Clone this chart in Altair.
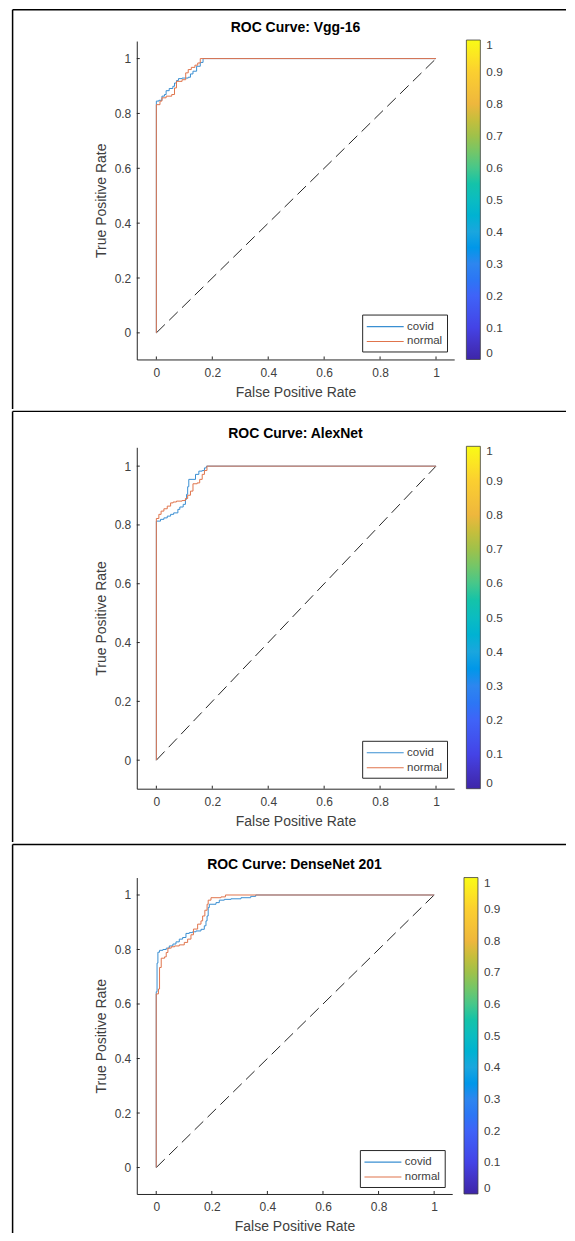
import altair as alt
import pandas as pd

FONT = "Liberation Sans"
AXIS_GRAY = "#262626"
TEXT_GRAY = "#404040"

titles = ["ROC Curve: Vgg-16", "ROC Curve: AlexNet", "ROC Curve: DenseNet 201"]
series_names = ["covid", "normal"]
series_colors = ["#3a8fd2", "#e0744c"]
axis_ticks = [0, 0.2, 0.4, 0.6, 0.8, 1]
x_domain = [-0.07, 1.065]
y_domain = [-0.097, 1.064]
chance_line = [0, 1]

# Vgg-16
vgg_covid_fpr = [0, 0, 0.009, 0.02, 0.029, 0.035, 0.046, 0.059, 0.065, 0.072, 0.079, 0.092, 0.114, 0.122, 0.131, 0.144, 0.157, 0.167, 1]
vgg_covid_tpr = [0, 0.845, 0.848, 0.863, 0.869, 0.883, 0.891, 0.899, 0.911, 0.92, 0.927, 0.929, 0.932, 0.944, 0.954, 0.972, 0.986, 1.0, 1]
vgg_normal_fpr = [0, 0, 0.013, 0.02, 0.035, 0.055, 0.065, 0.072, 0.092, 0.105, 0.114, 0.125, 0.138, 0.148, 0.157, 1]
vgg_normal_tpr = [0, 0.832, 0.845, 0.857, 0.863, 0.869, 0.893, 0.917, 0.923, 0.948, 0.96, 0.968, 0.976, 0.984, 1.0, 1]

# AlexNet
alex_covid_fpr = [0, 0, 0.015, 0.027, 0.039, 0.051, 0.062, 0.077, 0.084, 0.096, 0.104, 0.108, 0.112, 0.116, 0.131, 0.14, 0.152, 0.164, 0.172, 0.179, 1]
alex_covid_tpr = [0, 0.813, 0.819, 0.824, 0.83, 0.836, 0.841, 0.853, 0.861, 0.87, 0.887, 0.904, 0.93, 0.955, 0.955, 0.972, 0.983, 0.985, 0.994, 1.0, 1]
alex_normal_fpr = [0, 0, 0.009, 0.017, 0.027, 0.039, 0.051, 0.06, 0.072, 0.092, 0.104, 0.112, 0.122, 0.131, 0.146, 0.155, 0.164, 0.172, 0.181, 1]
alex_normal_tpr = [0, 0.822, 0.836, 0.847, 0.855, 0.864, 0.875, 0.878, 0.881, 0.883, 0.89, 0.901, 0.915, 0.94, 0.943, 0.955, 0.972, 0.985, 1.0, 1]

# DenseNet 201
dense_covid_fpr = [0, 0, 0.003, 0.006, 0.012, 0.024, 0.036, 0.047, 0.06, 0.071, 0.083, 0.095, 0.107, 0.119, 0.131, 0.143, 0.161, 0.173, 0.179, 0.183, 0.187, 0.191, 0.215, 0.227, 0.245, 0.269, 0.305, 0.34, 0.358, 1]
dense_covid_tpr = [0, 0.645, 0.75, 0.79, 0.797, 0.8, 0.805, 0.813, 0.82, 0.828, 0.838, 0.844, 0.859, 0.862, 0.865, 0.868, 0.874, 0.887, 0.905, 0.923, 0.954, 0.966, 0.972, 0.981, 0.984, 0.986, 0.99, 0.995, 1.0, 1]
dense_normal_fpr = [0, 0, 0.008, 0.012, 0.018, 0.03, 0.036, 0.042, 0.054, 0.066, 0.083, 0.101, 0.113, 0.125, 0.134, 0.149, 0.161, 0.167, 0.175, 0.183, 0.187, 0.197, 0.233, 0.249, 1]
dense_normal_tpr = [0, 0.637, 0.655, 0.734, 0.768, 0.773, 0.789, 0.805, 0.81, 0.813, 0.817, 0.826, 0.838, 0.854, 0.875, 0.893, 0.905, 0.923, 0.944, 0.966, 0.981, 0.99, 0.993, 1.0, 1]

# colorbar (parula-like)
cbar_values = [0, 1]
cbar_ticks = [0, 0.1, 0.2, 0.3, 0.4, 0.5, 0.6, 0.7, 0.8, 0.9, 1]
cbar_colors = ["#3e26a8", "#4443e6", "#3f63f8", "#2d86ef", "#1aa6de", "#0bbcc1",
               "#47c78a", "#9fc14a", "#eeb73d", "#fbcf30", "#f9fb15"]

# layout geometry per panel (pixels, relative to plot area)
geoms = [
    dict(w=318, h=319, top=-31.25, bottom=368.5, left=-124.4, right=430, cbx=330.2, cby=-1, cbl=320, lgx=225.8, lgy=274),
    dict(w=318, h=342, top=-36, bottom=395.5, left=-124.4, right=430, cbx=330.2, cby=-1, cbl=343, lgx=225.8, lgy=294),
    dict(w=316, h=317, top=-33, bottom=356, left=-124.4, right=430, cbx=327.8, cby=0, cbl=317, lgx=223.5, lgy=273),
]

data_sets = [
    (vgg_covid_fpr, vgg_covid_tpr, vgg_normal_fpr, vgg_normal_tpr),
    (alex_covid_fpr, alex_covid_tpr, alex_normal_fpr, alex_normal_tpr),
    (dense_covid_fpr, dense_covid_tpr, dense_normal_fpr, dense_normal_tpr),
]

one_row = pd.DataFrame({"k": [0]})


def make_panel(k):
    cf, ct, nf, nt = data_sets[k]
    g = geoms[k]
    rows = []
    for name, fx, ty in (("covid", cf, ct), ("normal", nf, nt)):
        for i, (a, b) in enumerate(zip(fx, ty)):
            rows.append({"series": name, "fpr": a, "tpr": b, "step": i})
    roc = pd.DataFrame(rows)

    xs = alt.Scale(domain=x_domain, nice=False, zero=False)
    ys = alt.Scale(domain=y_domain, nice=False, zero=False)
    xenc = alt.X("fpr:Q", scale=xs, axis=alt.Axis(values=axis_ticks, format="~g",
                                                  title="False Positive Rate",
                                                  labelPadding=8, titlePadding=7))
    yenc = alt.Y("tpr:Q", scale=ys, axis=alt.Axis(values=axis_ticks, format="~g",
                                                  title="True Positive Rate",
                                                  labelPadding=6, titlePadding=6))

    top_rule = alt.Chart(one_row).mark_rule(color="black", strokeWidth=1.5).encode(
        x=alt.value(g["left"]), x2=alt.value(g["right"]), y=alt.value(g["top"]))
    left_rule = alt.Chart(one_row).mark_rule(color="black", strokeWidth=1.5).encode(
        x=alt.value(g["left"]), y=alt.value(g["top"]), y2=alt.value(g["bottom"]))

    # inward ticks (MATLAB style)
    xt = alt.Chart(pd.DataFrame({"fpr": axis_ticks})).mark_rule(
        color=AXIS_GRAY, strokeWidth=1).encode(x=xenc, y=alt.value(g["h"]), y2=alt.value(g["h"] - 3))
    yt = alt.Chart(pd.DataFrame({"tpr": axis_ticks})).mark_rule(
        color=AXIS_GRAY, strokeWidth=1).encode(y=yenc, x=alt.value(0), x2=alt.value(3))

    diag = alt.Chart(pd.DataFrame({"fpr": chance_line, "tpr": chance_line})).mark_line(
        color=AXIS_GRAY, strokeWidth=1, strokeDash=[12, 6]).encode(x=xenc, y=yenc)

    lines = alt.Chart(roc).mark_line(interpolate="step-after", strokeWidth=1).encode(
        x=xenc, y=yenc,
        stroke=alt.Stroke("series:N",
                          scale=alt.Scale(domain=series_names, range=series_colors),
                          legend=alt.Legend(title=None, orient="none",
                                            legendX=g["lgx"], legendY=g["lgy"],
                                            symbolType="M-1,0H4", symbolSize=219,
                                            symbolStrokeWidth=1.2, labelOffset=25,
                                            labelFont=FONT, labelFontSize=11.5,
                                            labelColor=TEXT_GRAY, padding=4,
                                            rowPadding=1,
                                            strokeColor=AXIS_GRAY, fillColor="white",
                                            cornerRadius=0)),
        order=alt.Order("step:Q"))

    cb = alt.Chart(pd.DataFrame({"level": cbar_values})).mark_point(
        opacity=0, filled=True, size=1).encode(
        fill=alt.Fill("level:Q",
                      scale=alt.Scale(domain=cbar_ticks, range=cbar_colors),
                      legend=alt.Legend(title=None, orient="none", direction="vertical",
                                        legendX=g["cbx"], legendY=g["cby"],
                                        gradientLength=g["cbl"], gradientThickness=14,
                                        gradientStrokeColor=TEXT_GRAY, gradientStrokeWidth=0.8,
                                        values=cbar_ticks, format="~g", labelOverlap=False,
                                        labelFont=FONT, labelFontSize=11.8,
                                        labelColor=TEXT_GRAY, labelOffset=6,
                                        labelBaseline="middle", padding=0)))

    title = alt.Chart(pd.DataFrame({"t": [titles[k]]})).mark_text(
        font=FONT, fontSize=14, fontWeight="bold", color="black",
        align="center", baseline="middle").encode(
        x=alt.value(g["w"] / 2), y=alt.value(-13), text="t:N")

    return alt.layer(top_rule, left_rule, xt, yt, diag, lines, cb, title).properties(
        width=g["w"], height=g["h"])


chart = alt.vconcat(make_panel(0), make_panel(1), make_panel(2), spacing=0).resolve_scale(
    x="independent", y="independent", stroke="independent", fill="independent"
).resolve_legend(stroke="independent", fill="independent").properties(
    padding={"left": 3, "top": 0, "right": 0, "bottom": 0}
).configure_view(stroke=None).configure_axis(
    grid=False, ticks=False, domainColor=AXIS_GRAY, domainWidth=1,
    labelFont=FONT, labelFontSize=12, labelColor=TEXT_GRAY,
    titleFont=FONT, titleFontSize=14, titleFontWeight="normal", titleColor=TEXT_GRAY
)

chart.save("out.html", embed_options={"renderer": "svg", "actions": False})
